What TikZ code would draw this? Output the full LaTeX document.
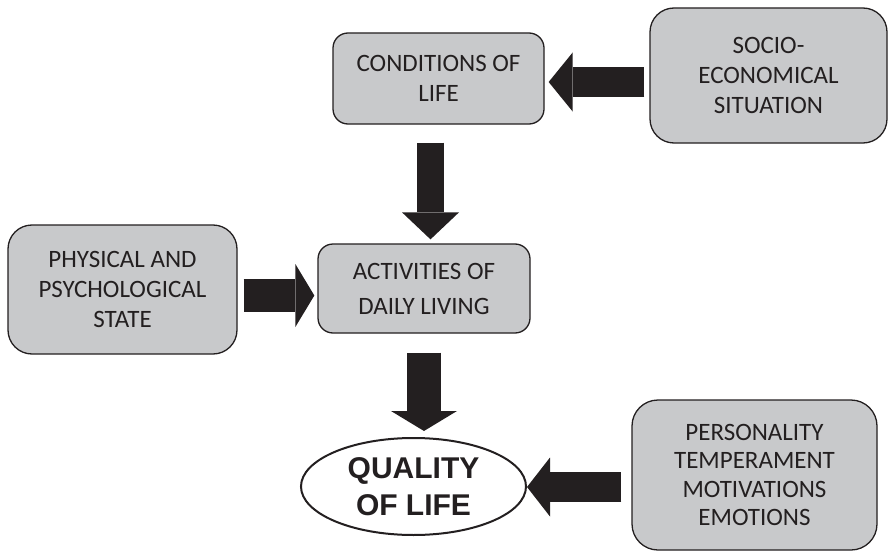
\documentclass[tikz,border=0pt]{standalone}
\usepackage{fontspec}
\setmainfont{Carlito}
\newfontfamily\headfont{Liberation Sans}
\usetikzlibrary{arrows.meta,shapes.geometric}
\definecolor{boxgray}{HTML}{C8C9CB}
\definecolor{inkdark}{HTML}{231F20}
\tikzset{
  factor/.style={draw=inkdark, line width=1.3pt, fill=boxgray, rounded corners=#1,
    inner sep=0pt, align=center, text=inkdark,
    font=\fontsize{25}{30}\selectfont},
  factor/.default=15pt,
  outcome/.style={draw=inkdark, line width=2pt, fill=white, ellipse, inner sep=0pt,
    align=center, text=inkdark, font=\headfont\bfseries\fontsize{30}{37}\selectfont},
  blockarrow/.style n args={3}{draw=inkdark, line width=#1,
    -{Triangle[length=#2, width=#3, line width=0pt, fill=inkdark]}}
}
\begin{document}
\begin{tikzpicture}[x=1pt, y=-1pt]
  \useasboundingbox (0,0) rectangle (889,551);

  % factor boxes
  \node[factor, minimum width=211pt, minimum height=91pt] (cond) at (438.5,78.5)
    {CONDITIONS OF\\LIFE};
  \node[factor=24pt, minimum width=237pt, minimum height=135pt] (soc) at (768.5,75.5)
    {SOCIO-\\ECONOMICAL\\SITUATION};
  \node[factor=24pt, minimum width=229pt, minimum height=129pt] (phys) at (122.5,289.5)
    {PHYSICAL AND\\PSYCHOLOGICAL\\STATE};
  \node[factor, minimum width=212pt, minimum height=89pt, font=\fontsize{25}{35}\selectfont]
    (act) at (424,288.5) {ACTIVITIES OF\\DAILY LIVING};
  \node[factor=26pt, minimum width=245pt, minimum height=150pt,
    font=\fontsize{25}{28.5}\selectfont] (pers) at (754.5,475)
    {PERSONALITY\\TEMPERAMENT\\MOTIVATIONS\\EMOTIONS};

  % outcome
  \node[outcome, minimum width=225pt, minimum height=97pt] (qol) at (413.5,486.5)
    {QUALITY\\OF LIFE};

  % block arrows (canvas shifts point up, so downward gaps are negative yshift)
  \draw[blockarrow={30pt}{24pt}{59pt}]
    ([xshift=-5pt]soc.west |- 0,82) -- ([xshift=4pt]cond.east |- 0,82);
  \draw[blockarrow={27pt}{27pt}{57pt}]
    ([yshift=-18pt]cond.south -| 430.5,0) -- ([yshift=4pt]act.north -| 430.5,0);
  \draw[blockarrow={33pt}{19pt}{63pt}]
    ([xshift=6pt]phys.east |- 0,295.5) -- ([xshift=-3pt]act.west |- 0,295.5);
  \draw[blockarrow={34pt}{20pt}{66pt}]
    ([yshift=-19pt]act.south -| 424,0) -- ([yshift=6pt]qol.north -| 424,0);
  \draw[blockarrow={30pt}{23pt}{59pt}]
    ([xshift=-10pt]pers.west |- 0,487) -- (qol.east |- 0,487);
\end{tikzpicture}
\end{document}
